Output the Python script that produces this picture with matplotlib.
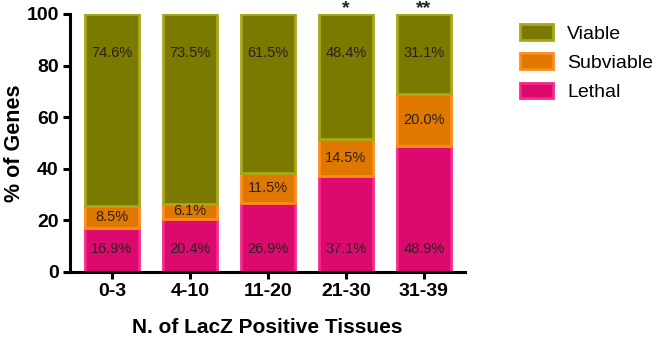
import matplotlib
matplotlib.use("Agg")
import matplotlib.pyplot as plt
from matplotlib.patches import Patch

plt.rcParams['font.family'] = ['Liberation Sans', 'DejaVu Sans']

groups = ["0-3", "4-10", "11-20", "21-30", "31-39"]
lethal = [16.9, 20.4, 26.9, 37.1, 48.9]
subviable = [8.5, 6.1, 11.5, 14.5, 20.0]
viable = [74.6, 73.5, 61.5, 48.4, 31.1]
stars = ["", "", "", "*", "**"]

series = ["Viable", "Subviable", "Lethal"]
fills = {"Viable": "#7a7a00", "Subviable": "#e07800", "Lethal": "#dc0a6e"}
edges = {"Viable": "#a8a818", "Subviable": "#ff8c1a", "Lethal": "#f8288a"}

fig = plt.figure(figsize=(6.58, 3.4), dpi=100)
ax = fig.add_axes([0.106, 0.2, 0.601, 0.759])

x = list(range(len(groups)))
w = 0.7

ax.bar(x, lethal, w, color=fills["Lethal"], edgecolor=edges["Lethal"], linewidth=2)
ax.bar(x, subviable, w, bottom=lethal, color=fills["Subviable"],
       edgecolor=edges["Subviable"], linewidth=2)
base = [l + s for l, s in zip(lethal, subviable)]
ax.bar(x, viable, w, bottom=base, color=fills["Viable"],
       edgecolor=edges["Viable"], linewidth=2)

txt = dict(ha="center", va="center", fontsize=10.5, color="#2a2020")
for i in x:
    ax.text(i, 9, f"{lethal[i]:.1f}%", **txt)
    ax.text(i, lethal[i] + subviable[i] / 2, f"{subviable[i]:.1f}%", **txt)
    ax.text(i, 85, f"{viable[i]:.1f}%", **txt)
    if stars[i]:
        ax.text(i, 100.2, stars[i], ha="center", va="baseline", fontsize=14,
                fontweight="bold", color="#222222", clip_on=False)

ax.set_xlim(-0.54, 4.53)
ax.set_ylim(0, 100)
ax.set_yticks([0, 20, 40, 60, 80, 100])
ax.set_xticks(x)
ax.set_xticklabels(groups)

for s in ["top", "right"]:
    ax.spines[s].set_visible(False)
for s in ["left", "bottom"]:
    ax.spines[s].set_linewidth(2.2)
ax.tick_params(width=2.2, length=5, labelsize=14, pad=3)
for lab in ax.get_xticklabels() + ax.get_yticklabels():
    lab.set_fontweight("bold")

ax.set_ylabel("% of Genes", fontsize=15.5, fontweight="bold", labelpad=1)
ax.set_xlabel("N. of LacZ Positive Tissues", fontsize=15, fontweight="bold", labelpad=13)

handles = [Patch(facecolor=fills[n], edgecolor=edges[n], linewidth=2, label=n)
           for n in series]
fig.legend(handles=handles, loc="upper left", bbox_to_anchor=(0.763, 0.98),
           frameon=False, fontsize=14, handlelength=1.7, handleheight=0.85,
           handletextpad=0.75, labelspacing=0.55)

fig.savefig("out.png", dpi=100)
